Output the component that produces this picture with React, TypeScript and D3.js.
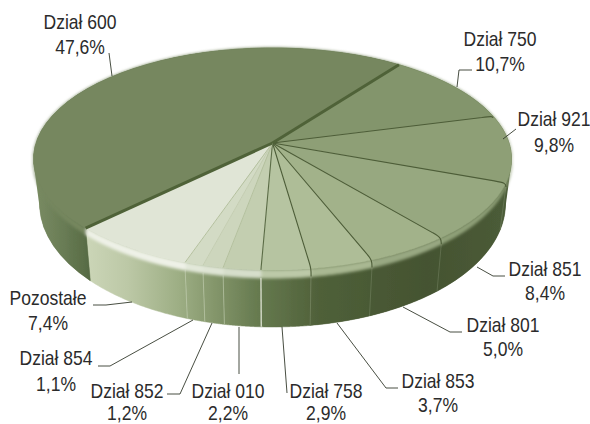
import React from "react";
import * as d3 from "d3";

const names = ["Dział 750", "Dział 921", "Dział 851", "Dział 801", "Dział 853", "Dział 758", "Dział 010", "Dział 852", "Dział 854", "Pozostałe", "Dział 600"];
const shares = [10.7, 9.8, 8.4, 5.0, 3.7, 2.9, 2.2, 1.2, 1.1, 7.4, 47.6];
const shareLabels = ["10,7%", "9,8%", "8,4%", "5,0%", "3,7%", "2,9%", "2,2%", "1,2%", "1,1%", "7,4%", "47,6%"];
const topColors = ["#83956c", "#8e9f76", "#97a880", "#a2b28a", "#aebd97", "#b6c4a1", "#c3ceb0", "#cdd6bd", "#d3dbc5", "#e0e5d6", "#76875f"];
const bevelColors = ["#83956c", "#8e9f76", "#8fa078", "#98a882", "#a9b892", "#bcc9a8", "#d6decb", "#dfe5d5", "#e2e8d9", "#eef1e7", "#76875f"];
const sepColors = ["#4d5d38", "#4d5d38", "#4d5d38", "#4d5d38", "#4d5d38", "#5a6b45", "#b4c09e", "#c4cdb2", "#b4c09e", "#4f6238", "#4f6238"];
const sepWidths = [1.1, 1.1, 1.1, 1.1, 1.1, 1.1, 1, 1, 1, 3, 3];

// label layout: centre x, first baseline, second baseline
const labelX = [500, 554, 545, 503, 438, 326, 228, 127, 56, 48, 80];
const labelY1 = [46, 126, 276, 332, 388, 398, 398, 398, 365, 305, 29];
const labelY2 = [71, 152, 300, 356, 412, 420, 420, 420, 391, 330, 54];
const leaders: [number, number][][] = [
  [[472, 70], [459, 70], [457, 87]],
  [[516, 129], [503, 139]],
  [[505, 276], [493, 276], [477, 267]],
  [[462, 332], [450, 332], [403, 307]],
  [[398, 388], [386, 388], [337, 323]],
  [[287, 393], [282, 327]],
  [[239, 374], [239, 327]],
  [[167, 394], [180, 394], [212, 323]],
  [[98, 366], [110, 366], [193, 320]],
  [[93, 305], [106, 305], [132, 302]],
  [[109, 53], [112, 76]],
];

const W = 590, H = 424;
const cx = 272.5, cy = 143, a = 108.7, b = 236.5, k = -0.144;
const start = (36.6 * Math.PI) / 180;

const project = (t: number) => {
  const u = Math.sin(t), v = -Math.cos(t), w = 1 + k * v;
  return { x: cx + (b * u) / w, y: cy + (a * v) / w, v };
};
const depth = d3.scaleLinear().domain([0, 1]).range([42, 57]);
const bevel = d3.scaleLinear().domain([0, 1]).range([2, 8]).clamp(true);
const topPt = (t: number): [number, number] => { const p = project(t); return [p.x, p.y]; };
const bevelPt = (t: number): [number, number] => { const p = project(t); return [p.x, p.y + bevel(p.v)]; };
const botPt = (t: number): [number, number] => { const p = project(t); return [cx + (p.x - cx) * 0.975, p.y + depth(p.v)]; };
const steps = (s: number, e: number) => d3.range(0, 41).map((i) => s + ((e - s) * i) / 40);
const line = d3.line<[number, number]>();
const curve = d3.line<[number, number]>().curve(d3.curveBasis);

const arcs = d3.pie<number>().sort(null).startAngle(start).endAngle(start + 2 * Math.PI)(shares);
const font = "'Liberation Sans',Arial,sans-serif";

const hullPath = (s: number, e: number) => {
  const ts = steps(s, e);
  const hull = d3.polygonHull([...ts.map(topPt), ...ts.map(botPt)]) as [number, number][];
  return line(hull) + "Z";
};

export default function App() {
  return (
    <svg width={W} height={H} viewBox={`0 0 ${W} ${H}`} style={{ position: "absolute", left: 0, top: 0, background: "#fff" }}>
      <defs>
        <linearGradient id="wallFront" gradientUnits="userSpaceOnUse" x1="85" x2="512" y1="0" y2="0">
          <stop offset="0" stopColor="#ccd6b8" />
          <stop offset="0.1" stopColor="#bcc8a6" />
          <stop offset="0.22" stopColor="#9dae84" />
          <stop offset="0.3" stopColor="#85976c" />
          <stop offset="0.4" stopColor="#677b50" />
          <stop offset="0.55" stopColor="#4f6039" />
          <stop offset="0.8" stopColor="#445331" />
          <stop offset="1" stopColor="#4c5c38" />
        </linearGradient>
        <linearGradient id="wallBack" gradientUnits="userSpaceOnUse" x1="34" x2="90" y1="0" y2="0">
          <stop offset="0" stopColor="#7a8c63" />
          <stop offset="0.5" stopColor="#6a7d56" />
          <stop offset="1" stopColor="#566a43" />
        </linearGradient>
        <filter id="soft" x="-5%" y="-5%" width="110%" height="110%"><feGaussianBlur stdDeviation="0.7" /></filter>
        <filter id="softer" x="-10%" y="-30%" width="120%" height="160%"><feGaussianBlur stdDeviation="1.6" /></filter>
        <filter id="edge" x="-5%" y="-5%" width="110%" height="110%"><feGaussianBlur stdDeviation="0.5" /></filter>
      </defs>

      <g filter="url(#edge)">
        <path d={hullPath(arcs[10].startAngle, arcs[10].endAngle)} fill="url(#wallBack)" />
        <path d={hullPath(arcs[0].startAngle, arcs[4].endAngle)} fill="url(#wallFront)" />
        {arcs.map((d, i) => {
          const ts = steps(d.startAngle, d.endAngle);
          const pts = [...ts.map(topPt), ...ts.slice().reverse().map(botPt)];
          const f = i === 10 ? "url(#wallBack)" : "url(#wallFront)";
          return <path key={i} d={line(pts) + "Z"} fill={f} stroke={f} strokeWidth={0.5} />;
        })}
      </g>

      {arcs.slice(0, 9).map((d, i) => (
        <path key={i} d={line([bevelPt(d.endAngle), botPt(d.endAngle)]) as string}
          stroke={i === 5 ? "#e6eadc" : "#c8d2b6"} strokeOpacity={i === 5 ? 1 : i > 5 ? 0.6 : 0.22} strokeWidth={i === 5 ? 1.2 : 0.9} />
      ))}

      <g filter="url(#softer)">
        {arcs.map((d, i) => {
          const ts = steps(d.startAngle, d.endAngle);
          const pts = [...ts.map(topPt), ...ts.slice().reverse().map(bevelPt)];
          return <path key={i} d={line(pts) + "Z"} fill={bevelColors[i]} stroke={bevelColors[i]} strokeWidth={1} />;
        })}
      </g>

      <g filter="url(#soft)">
        {arcs.map((d, i) => {
          const ts = steps(d.startAngle, d.endAngle);
          return <path key={i} d={line([[cx, cy], ...ts.map(topPt)]) + "Z"} fill={topColors[i]} stroke={topColors[i]} strokeWidth={0.6} />;
        })}
      </g>

      {arcs.map((d, i) => {
        const rim = topPt(d.endAngle);
        const low = bevelPt(d.endAngle);
        if (i < 5) {
          const near: [number, number] = [cx + (rim[0] - cx) * 0.95, cy + (rim[1] - cy) * 0.95];
          return <path key={i} d={line([[cx, cy], near]) + (curve([near, rim, low]) as string).replace(/^M[^C]*/, "L" + near.join(",") + " ")} stroke={sepColors[i]} strokeWidth={sepWidths[i]} fill="none" />;
        }
        return <path key={i} d={line([[cx, cy], rim]) as string} stroke={sepColors[i]} strokeWidth={sepWidths[i]} fill="none" />;
      })}

      {leaders.map((l, i) => (
        <path key={i} d={line(l) as string} fill="none" stroke="#333a2c" strokeWidth={0.9} />
      ))}

      <g fontFamily={font} fontSize={21} fill="#2b2b2b" textAnchor="middle">
        {names.map((n, i) => (
          <g key={n}>
            <text transform={`translate(${labelX[i]},${labelY1[i]}) scale(0.835,1)`}>{n}</text>
            <text transform={`translate(${labelX[i]},${labelY2[i]}) scale(0.835,1)`}>{shareLabels[i]}</text>
          </g>
        ))}
      </g>
    </svg>
  );
}
